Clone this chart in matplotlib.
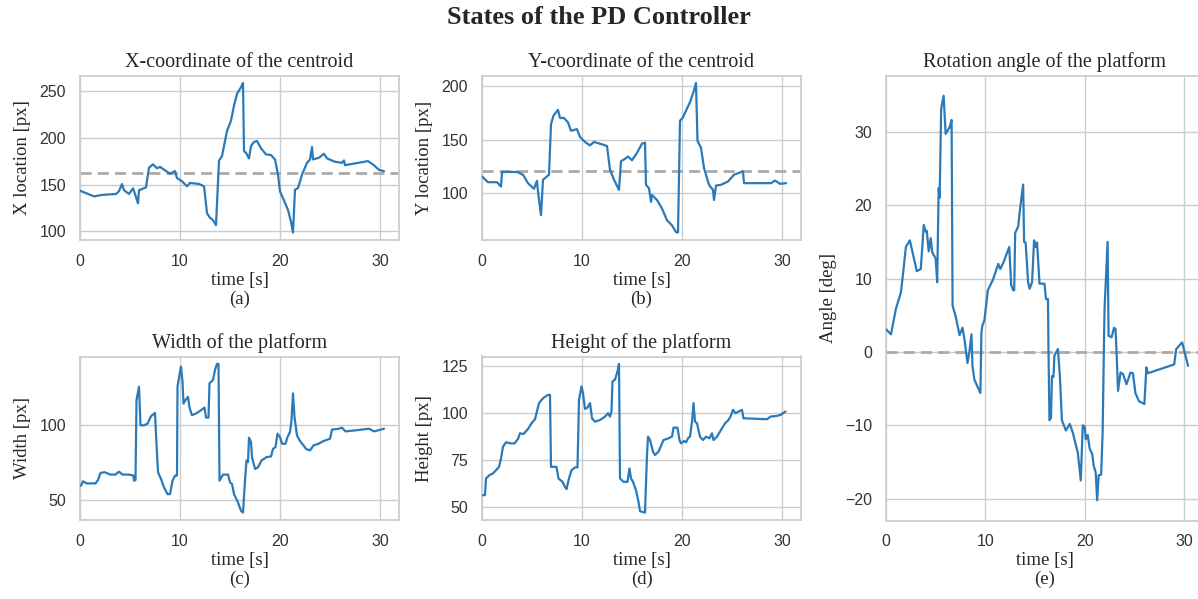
import matplotlib
matplotlib.use("Agg")
import matplotlib.pyplot as plt
import seaborn as sns
import numpy as np

# ---------------- data ----------------
x_t = [0.0, 1.4, 2.2, 3.6, 3.9, 4.2, 4.4, 4.9, 5.3, 5.5, 5.8, 5.9, 6.6, 6.9, 7.3, 7.7, 8.0, 8.6, 9.0, 9.5,
       9.7, 10.2, 10.7, 11.0, 11.9, 12.4, 12.5, 12.7, 13.0, 13.3, 13.6, 13.9, 14.2, 14.5, 14.7, 15.1, 15.4,
       15.7, 16.1, 16.3, 16.4, 16.6, 16.9, 17.1, 17.4, 17.7, 18.1, 18.6, 19.1, 19.5, 19.8, 20.0, 20.3, 20.8,
       21.1, 21.3, 21.5, 21.8, 22.2, 22.7, 23.0, 23.2, 23.3, 23.9, 24.4, 24.7, 25.5, 26.2, 26.4, 26.5, 28.8,
       29.3, 29.9, 30.4]
x_val = [143.5, 137.4, 139, 140, 143, 150.6, 144, 140, 146, 140, 130, 144, 147, 168, 171.7, 167.4, 169, 164.5,
         161.6, 164.5, 157, 153.6, 148.2, 151.8, 150.7, 148.2, 139, 119.3, 114.6, 112, 106.6, 175.7, 180.4,
         196.6, 207.4, 218.2, 234.4, 247, 254, 258.6, 185.8, 184, 178, 191.3, 195.6, 196.7, 188.8, 182.3,
         181.6, 176.9, 160.7, 142.7, 135.5, 122.9, 110.3, 98.8, 144.5, 146.3, 160.7, 173.3, 176.9, 190.2,
         176.9, 178.7, 183, 178, 174.4, 173.3, 175.8, 170.8, 175.1, 171.5, 165.8, 164.3]
x_ref = 162
x_yticks = [100, 150, 200, 250]

y_t = [0.0, 0.6, 1.5, 1.9, 2.0, 3.5, 4.1, 4.6, 5.2, 5.5, 5.6, 5.9, 6.1, 6.7, 6.9, 7.15, 7.6, 7.8, 8.2, 8.6,
       8.9, 9.5, 9.8, 10.3, 10.8, 11.2, 12.0, 12.5, 12.8, 13.2, 13.7, 13.9, 14.3, 14.6, 15.0, 15.5, 16.0,
       16.3, 16.4, 16.7, 16.9, 17.0, 17.5, 18.0, 18.5, 19.0, 19.4, 19.6, 19.8, 20.1, 20.4, 20.8, 21.2, 21.4,
       21.55, 21.9, 22.2, 22.7, 23.1, 23.2, 23.4, 23.9, 24.6, 25.2, 26.1, 26.2, 28.9, 29.3, 29.8, 30.4]
y_val = [115.8, 110.4, 110.4, 106.3, 119.9, 120, 117.4, 109.5, 104.2, 111.7, 101.6, 79.6, 112.7, 117.4,
         164.7, 172.6, 178, 170.4, 170.4, 166.2, 158.4, 160, 152.7, 148, 144.8, 148, 145.8, 144.2, 122.1,
         112.7, 103.2, 130, 132.2, 134.4, 130.9, 137.8, 146.4, 147.3, 107.9, 104.7, 92.1, 98.5, 93.8, 85.8,
         74.8, 70.1, 63.8, 63.4, 167.8, 171, 177.3, 185.1, 196.2, 203.1, 148.9, 142.6, 123.7, 107.9, 103.2,
         93.8, 107.3, 108, 111, 117.4, 120.5, 109.5, 109.5, 112, 108.9, 109.5]
y_ref = 121
y_yticks = [100, 150, 200]

w_t = [0.1, 0.3, 0.65, 1.55, 1.8, 2.05, 2.45, 3.05, 3.55, 3.9, 4.25, 4.9, 5.35, 5.4, 5.55, 5.65, 5.9, 6.05,
       6.4, 6.75, 7.1, 7.5, 7.65, 7.8, 8.1, 8.4, 8.75, 9.0, 9.25, 9.5, 9.7, 9.75, 9.95, 10.1, 10.25, 10.35,
       10.55, 10.8, 10.95, 11.2, 11.6, 12.1, 12.45, 12.6, 12.85, 12.95, 13.3, 13.5, 13.7, 13.85, 13.95,
       14.3, 14.8, 15.0, 15.2, 15.4, 15.8, 16.1, 16.3, 16.5, 16.65, 16.8, 16.9, 17.1, 17.2, 17.5, 17.8,
       18.15, 18.65, 19.1, 19.3, 19.55, 19.75, 20.0, 20.2, 20.55, 20.75, 21.0, 21.15, 21.3, 21.45, 21.7,
       22.0, 22.35, 22.6, 23.0, 23.35, 23.85, 24.35, 25.0, 25.2, 25.9, 26.2, 26.55, 27.55, 28.9, 29.4,
       29.8, 30.4]
w_val = [59.5, 62.4, 61, 61, 63.3, 68, 68.5, 66.9, 66.9, 68.9, 66.9, 66.9, 66.2, 62.8, 63.3, 116.9, 125.9,
         100, 100, 101.1, 106.1, 108.3, 87.6, 68.5, 64, 58.3, 53.8, 53.8, 62.8, 66.2, 66.2, 125.9, 133.8,
         139.4, 129.3, 114.6, 116.9, 119.1, 111.9, 106.8, 107.9, 110.1, 111.9, 105.2, 105.2, 128.2, 130.4,
         137.2, 141.2, 141.2, 62.8, 66.9, 66.9, 61.7, 60.6, 53.8, 48.2, 42.6, 41.4, 62.8, 76.4, 75.3, 91.7,
         88.7, 78.6, 70.7, 71.8, 76.4, 78.6, 79.1, 84.2, 85.4, 94.4, 92.1, 87.6, 87.6, 92.1, 95.5, 103.4,
         121.4, 105.6, 93.2, 89.4, 86.5, 84.2, 83.1, 86.5, 87.6, 89.4, 91, 97.1, 97.7, 98.4, 95.9, 96.6,
         97.7, 95.9, 96.6, 97.7]
w_yticks = [50, 100]

h_t = [0.1, 0.3, 0.4, 0.75, 1.1, 1.4, 1.7, 1.9, 2.1, 2.4, 2.9, 3.25, 3.6, 3.8, 4.15, 4.6, 4.95, 5.3, 5.45,
       5.7, 6.1, 6.6, 6.8, 6.9, 7.45, 7.65, 8.05, 8.3, 8.45, 8.7, 8.95, 9.3, 9.55, 9.7, 9.95, 10.1, 10.3,
       10.55, 10.8, 11.0, 11.3, 11.8, 12.3, 12.6, 12.8, 12.95, 13.05, 13.3, 13.55, 13.7, 13.8, 14.15,
       14.55, 14.75, 14.9, 15.1, 15.4, 15.65, 15.8, 16.3, 16.5, 16.6, 16.8, 17.1, 17.3, 17.65, 18.15,
       18.65, 19.0, 19.15, 19.55, 19.75, 19.9, 20.2, 20.4, 20.65, 20.8, 21.0, 21.15, 21.3, 21.5, 21.8,
       22.1, 22.4, 22.75, 23.0, 23.15, 23.5, 23.9, 24.3, 24.65, 24.85, 25.1, 25.35, 25.65, 26.0, 26.15,
       28.5, 28.85, 29.5, 29.85, 30.35]
h_val = [56.3, 56.3, 65.2, 67, 67.9, 69.6, 71.4, 75.9, 82.1, 84.5, 83.9, 83.9, 86.3, 89.3, 88.9, 91.6, 94.6,
         96.8, 100, 105.4, 108, 109.8, 109.8, 71.4, 71.4, 65.2, 63.4, 60.7, 59.5, 65.2, 69.6, 71.1, 71.1,
         107.1, 114.3, 110.7, 102.3, 103, 105.4, 97.3, 95.5, 96.4, 98.2, 100, 98.2, 101, 117, 117.9, 122.3,
         126.3, 65.2, 63.4, 63.4, 70.5, 65.2, 63.4, 58.9, 52.7, 47.7, 47, 77.7, 87.5, 85.7, 79.5, 77.7,
         79.5, 85.7, 86.6, 87.5, 92.3, 92.3, 85.7, 83.9, 85.2, 84.5, 87, 87.5, 95.5, 105.4, 95.5, 94.6,
         87.5, 85.7, 87.5, 86.6, 89.3, 85.7, 87.5, 91.1, 94.6, 96.4, 98.2, 101.8, 100, 100.9, 101.8, 97.3,
         96.8, 98.2, 98.6, 99.1, 100.9]
h_yticks = [50, 75, 100, 125]

a_t = [0.0, 0.5, 1.0, 1.5, 1.75, 2.0, 2.4, 2.7, 3.1, 3.5, 3.8, 4.0, 4.1, 4.3, 4.5, 4.65, 5.0, 5.15, 5.3,
       5.4, 5.55, 5.8, 6.0, 6.4, 6.6, 6.7, 7.0, 7.4, 7.7, 7.9, 8.2, 8.4, 8.6, 8.7, 8.9, 9.2, 9.5, 9.6,
       9.7, 9.9, 10.25, 10.75, 11.3, 11.5, 11.85, 12.4, 12.6, 12.8, 12.9, 13.0, 13.3, 13.5, 13.8, 13.9,
       14.05, 14.3, 14.45, 14.7, 14.9, 15.05, 15.2, 15.45, 15.95, 16.1, 16.3, 16.35, 16.45, 16.6, 16.7,
       16.85, 16.95, 17.3, 17.5, 17.7, 18.1, 18.5, 18.8, 19.3, 19.6, 19.8, 20.0, 20.1, 20.3, 20.5, 20.75,
       20.9, 21.1, 21.25, 21.4, 21.65, 21.8, 21.95, 22.0, 22.3, 22.4, 22.7, 22.95, 23.1, 23.2, 23.35,
       23.6, 23.85, 24.2, 24.6, 24.85, 25.1, 25.45, 26.0, 26.2, 26.35, 29.0, 29.2, 29.8, 30.4]
a_val = [3.1, 2.4, 5.9, 8.1, 11.1, 14.3, 15.2, 13.4, 11.0, 11.3, 17.3, 16.4, 16.5, 13.7, 15.5, 13.6, 12.7,
         9.5, 22.3, 21.0, 33.1, 34.9, 29.7, 30.6, 31.6, 6.3, 4.9, 2.3, 3.3, 1.7, -1.5, 0.1, 2.4, -1.9, -3.8,
         -4.7, -5.6, 2.6, 3.6, 4.3, 8.4, 9.8, 12.0, 11.3, 12.3, 14.3, 9.1, 8.4, 8.4, 16.2, 17.1, 19.6, 22.8,
         15.0, 14.9, 9.5, 8.6, 9.5, 15.2, 14.3, 14.9, 9.3, 9.3, 7.2, 7.2, 0.4, -9.3, -9.0, -3.3, -3.4, -0.5,
         0.4, -3.3, -9.3, -10.7, -9.8, -11.0, -13.7, -17.5, -10.0, -10.2, -11.9, -11.3, -13.2, -13.9,
         -15.5, -16.4, -20.2, -16.8, -16.7, -11.0, 2.6, 6.1, 15.0, 2.2, 2.0, 3.3, 3.1, 0.0, -5.3, -2.8,
         -3.0, -4.4, -2.8, -2.9, -5.6, -6.7, -7.1, -2.1, -2.9, -1.7, 0.4, 1.3, -1.9]
a_ref = 0
a_yticks = [-20, -10, 0, 10, 20, 30]

time_ticks = [0, 10, 20, 30]

# ---------------- style ----------------
sns.set_theme(style="whitegrid")
plt.rcParams['font.family'] = ['Liberation Serif', 'DejaVu Serif']
tick_font = 'Liberation Sans'

W, H = 1198, 599
fig = plt.figure(figsize=(W / 100, H / 100), dpi=100)

def box(l, t, r, b):
    return [l / W, 1 - b / H, (r - l) / W, (b - t) / H]

line_color = '#2a7ab9'
ref_color = '#aaaaaa'

panels = [
    (box(80, 75.5, 399, 240), x_t, x_val, x_ref, x_yticks, "X-coordinate of the centroid", "X location [px]", "a"),
    (box(482, 75.5, 801, 240), y_t, y_val, y_ref, y_yticks, "Y-coordinate of the centroid", "Y location [px]", "b"),
    (box(80, 356.5, 399, 520), w_t, w_val, None, w_yticks, "Width of the platform", "Width [px]", "c"),
    (box(482, 356.5, 801, 520), h_t, h_val, None, h_yticks, "Height of the platform", "Height [px]", "d"),
    (box(886, 75.5, 1203, 520.5), a_t, a_val, a_ref, a_yticks, "Rotation angle of the platform", "Angle [deg]", "e"),
]

for rect, t, v, ref, yt, title, ylabel, tag in panels:
    ax = fig.add_axes(rect)
    ax.plot(t, v, color=line_color, lw=1.6, zorder=3)
    if ref is not None:
        ax.axhline(ref, color=ref_color, lw=2, ls=(0, (4, 2.2)), zorder=2)
    ax.set_xlim(left=0, right=31.9)
    ax.set_yticks(yt)
    ax.set_title(title, fontsize=14.5, pad=6)
    ax.set_xlabel("time [s]\n(" + tag + ")", fontsize=13.5, linespacing=1.15, labelpad=2)
    ax.set_ylabel(ylabel, fontsize=13.5, labelpad=6)
    ax.set_xticks(time_ticks)
    for lab in ax.get_xticklabels() + ax.get_yticklabels():
        lab.set_fontfamily(tick_font)
        lab.set_fontsize(11.5)
        lab.set_color('#333333')
    ax.tick_params(pad=4)
    for s in ax.spines.values():
        s.set_color('#cccccc')

fig.suptitle("States of the PD Controller", fontsize=19, fontweight='bold', y=0.99)
fig.savefig("out.png", dpi=100)
